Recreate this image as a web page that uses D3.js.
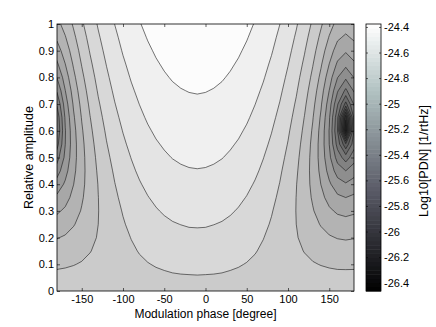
<!DOCTYPE html>
<html>
<head>
<meta charset="utf-8">
<script src="https://cdn.jsdelivr.net/npm/d3@7"></script>
<style>
  body { margin: 0; background: #fff; }
  text { font-family: "Liberation Sans", Arial, Helvetica, sans-serif; fill: #000; }
</style>
</head>
<body>
<svg id="chart" width="436" height="327"></svg>
<script>
// Grid of the contour map: one row per relative amplitude, one column per phase.
const phases = [-180, -170, -160, -150, -140, -130, -120, -110, -100, -90, -80, -70, -60, -50, -40, -30, -20, -10,
    0, 10, 20, 30, 40, 50, 60, 70, 80, 90, 100, 110, 120, 130, 140, 150, 160, 170, 180];
const amplitudes = [0, 0.05, 0.1, 0.15, 0.2, 0.25, 0.3, 0.35, 0.4, 0.45, 0.5,
    0.55, 0.6, 0.65, 0.7, 0.75, 0.8, 0.85, 0.9, 0.95, 1];

// Log10[PDN], rows follow amplitudes, columns follow phases.
const logPdn = [
    [-24.74,-24.74,-24.74,-24.74,-24.74,-24.74,-24.74,-24.74,-24.74,-24.74,-24.74,-24.74,-24.74,-24.74,-24.74,-24.74,-24.74,-24.74,-24.74,-24.74,-24.74,-24.74,-24.74,-24.74,-24.74,-24.74,-24.74,-24.74,-24.74,-24.74,-24.74,-24.74,-24.74,-24.74,-24.74,-24.74,-24.74],
    [-24.776,-24.774,-24.771,-24.767,-24.762,-24.757,-24.751,-24.745,-24.739,-24.733,-24.727,-24.722,-24.717,-24.714,-24.710,-24.708,-24.707,-24.706,-24.707,-24.708,-24.710,-24.714,-24.717,-24.722,-24.727,-24.733,-24.739,-24.745,-24.751,-24.757,-24.762,-24.767,-24.771,-24.774,-24.776,-24.776,-24.776],
    [-24.815,-24.810,-24.803,-24.794,-24.783,-24.772,-24.759,-24.747,-24.734,-24.723,-24.712,-24.703,-24.695,-24.688,-24.682,-24.678,-24.676,-24.675,-24.676,-24.678,-24.682,-24.688,-24.695,-24.703,-24.712,-24.723,-24.734,-24.747,-24.759,-24.772,-24.783,-24.794,-24.803,-24.810,-24.815,-24.816,-24.815],
    [-24.857,-24.849,-24.837,-24.821,-24.803,-24.784,-24.765,-24.746,-24.728,-24.711,-24.696,-24.683,-24.672,-24.663,-24.655,-24.650,-24.647,-24.646,-24.647,-24.650,-24.655,-24.663,-24.672,-24.683,-24.696,-24.711,-24.728,-24.746,-24.765,-24.784,-24.803,-24.821,-24.837,-24.849,-24.857,-24.860,-24.857],
    [-24.904,-24.891,-24.871,-24.847,-24.821,-24.794,-24.767,-24.742,-24.719,-24.698,-24.679,-24.663,-24.649,-24.638,-24.630,-24.624,-24.620,-24.619,-24.620,-24.624,-24.630,-24.638,-24.649,-24.663,-24.679,-24.698,-24.719,-24.742,-24.767,-24.794,-24.821,-24.847,-24.871,-24.891,-24.904,-24.909,-24.904],
    [-24.956,-24.936,-24.906,-24.872,-24.835,-24.800,-24.766,-24.735,-24.707,-24.683,-24.661,-24.643,-24.627,-24.615,-24.605,-24.599,-24.594,-24.593,-24.594,-24.599,-24.605,-24.615,-24.627,-24.643,-24.661,-24.683,-24.707,-24.735,-24.766,-24.800,-24.835,-24.872,-24.906,-24.936,-24.956,-24.964,-24.956],
    [-25.015,-24.984,-24.941,-24.893,-24.847,-24.802,-24.762,-24.726,-24.695,-24.667,-24.643,-24.623,-24.606,-24.592,-24.582,-24.575,-24.570,-24.569,-24.570,-24.575,-24.582,-24.592,-24.606,-24.623,-24.643,-24.667,-24.695,-24.726,-24.762,-24.802,-24.847,-24.893,-24.941,-24.984,-25.015,-25.027,-25.015],
    [-25.081,-25.034,-24.973,-24.911,-24.853,-24.801,-24.755,-24.715,-24.680,-24.650,-24.624,-24.603,-24.585,-24.571,-24.560,-24.552,-24.547,-24.546,-24.547,-24.552,-24.560,-24.571,-24.585,-24.603,-24.624,-24.650,-24.680,-24.715,-24.755,-24.801,-24.853,-24.911,-24.973,-25.034,-25.081,-25.100,-25.081],
    [-25.157,-25.085,-25.002,-24.924,-24.856,-24.797,-24.746,-24.702,-24.665,-24.633,-24.606,-24.583,-24.565,-24.550,-24.538,-24.530,-24.526,-24.524,-24.526,-24.530,-24.538,-24.550,-24.565,-24.583,-24.606,-24.633,-24.665,-24.702,-24.746,-24.797,-24.856,-24.924,-25.002,-25.085,-25.157,-25.189,-25.157],
    [-25.245,-25.134,-25.024,-24.931,-24.853,-24.788,-24.734,-24.688,-24.648,-24.615,-24.587,-24.564,-24.545,-24.530,-24.518,-24.510,-24.505,-24.503,-24.505,-24.510,-24.518,-24.530,-24.545,-24.564,-24.587,-24.615,-24.648,-24.688,-24.734,-24.788,-24.853,-24.931,-25.024,-25.134,-25.245,-25.300,-25.245],
    [-25.342,-25.175,-25.038,-24.931,-24.846,-24.777,-24.720,-24.672,-24.632,-24.598,-24.569,-24.545,-24.526,-24.510,-24.498,-24.490,-24.485,-24.484,-24.485,-24.490,-24.498,-24.510,-24.526,-24.545,-24.569,-24.598,-24.632,-24.672,-24.720,-24.777,-24.846,-24.931,-25.038,-25.175,-25.342,-25.450,-25.342],
    [-25.439,-25.201,-25.041,-24.925,-24.835,-24.763,-24.704,-24.655,-24.614,-24.580,-24.551,-24.527,-24.507,-24.492,-24.480,-24.471,-24.466,-24.465,-24.466,-24.471,-24.480,-24.492,-24.507,-24.527,-24.551,-24.580,-24.614,-24.655,-24.704,-24.763,-24.835,-24.925,-25.041,-25.201,-25.439,-25.681,-25.439],
    [-25.497,-25.205,-25.033,-24.912,-24.820,-24.747,-24.688,-24.638,-24.597,-24.562,-24.533,-24.509,-24.489,-24.473,-24.462,-24.453,-24.448,-24.446,-24.448,-24.453,-24.462,-24.473,-24.489,-24.509,-24.533,-24.562,-24.597,-24.638,-24.688,-24.747,-24.820,-24.912,-25.033,-25.205,-25.497,-26.209,-25.497],
    [-25.474,-25.186,-25.014,-24.894,-24.803,-24.730,-24.670,-24.621,-24.579,-24.545,-24.516,-24.491,-24.472,-24.456,-24.444,-24.436,-24.431,-24.429,-24.431,-24.436,-24.444,-24.456,-24.472,-24.491,-24.516,-24.545,-24.579,-24.621,-24.670,-24.730,-24.803,-24.894,-25.014,-25.186,-25.474,-26.073,-25.474],
    [-25.389,-25.149,-24.989,-24.872,-24.783,-24.711,-24.652,-24.603,-24.562,-24.528,-24.499,-24.475,-24.455,-24.439,-24.427,-24.419,-24.414,-24.412,-24.414,-24.419,-24.427,-24.439,-24.455,-24.475,-24.499,-24.528,-24.562,-24.603,-24.652,-24.711,-24.783,-24.872,-24.989,-25.149,-25.389,-25.636,-25.389],
    [-25.289,-25.102,-24.958,-24.848,-24.762,-24.691,-24.634,-24.585,-24.545,-24.511,-24.482,-24.458,-24.438,-24.423,-24.411,-24.403,-24.398,-24.396,-24.398,-24.403,-24.411,-24.423,-24.438,-24.458,-24.482,-24.511,-24.545,-24.585,-24.634,-24.691,-24.762,-24.848,-24.958,-25.102,-25.289,-25.423,-25.289],
    [-25.197,-25.052,-24.924,-24.822,-24.739,-24.672,-24.615,-24.568,-24.528,-24.494,-24.466,-24.442,-24.423,-24.407,-24.395,-24.387,-24.382,-24.381,-24.382,-24.387,-24.395,-24.407,-24.423,-24.442,-24.466,-24.494,-24.528,-24.568,-24.615,-24.672,-24.739,-24.822,-24.924,-25.052,-25.197,-25.281,-25.197],
    [-25.116,-25.001,-24.889,-24.795,-24.717,-24.651,-24.597,-24.550,-24.511,-24.478,-24.450,-24.426,-24.407,-24.392,-24.380,-24.372,-24.367,-24.366,-24.367,-24.372,-24.380,-24.392,-24.407,-24.426,-24.450,-24.478,-24.511,-24.550,-24.597,-24.651,-24.717,-24.795,-24.889,-25.001,-25.116,-25.174,-25.116],
    [-25.045,-24.952,-24.855,-24.768,-24.694,-24.631,-24.578,-24.533,-24.494,-24.462,-24.434,-24.411,-24.392,-24.377,-24.366,-24.357,-24.353,-24.351,-24.353,-24.357,-24.366,-24.377,-24.392,-24.411,-24.434,-24.462,-24.494,-24.533,-24.578,-24.631,-24.694,-24.768,-24.855,-24.952,-25.045,-25.088,-25.045],
    [-24.983,-24.906,-24.821,-24.741,-24.671,-24.611,-24.560,-24.516,-24.478,-24.446,-24.419,-24.396,-24.378,-24.363,-24.351,-24.343,-24.339,-24.337,-24.339,-24.343,-24.351,-24.363,-24.378,-24.396,-24.419,-24.446,-24.478,-24.516,-24.560,-24.611,-24.671,-24.741,-24.821,-24.906,-24.983,-25.016,-24.983],
    [-24.928,-24.864,-24.788,-24.714,-24.649,-24.591,-24.542,-24.499,-24.462,-24.431,-24.404,-24.382,-24.364,-24.349,-24.338,-24.330,-24.325,-24.323,-24.325,-24.330,-24.338,-24.349,-24.364,-24.382,-24.404,-24.431,-24.462,-24.499,-24.542,-24.591,-24.649,-24.714,-24.788,-24.864,-24.928,-24.955,-24.928]
];

// Contour levels and the ticks.
const levels = [-26.4, -26.3, -26.2, -26.1, -26.0, -25.9, -25.8, -25.7, -25.6, -25.5, -25.4,
    -25.3, -25.2, -25.1, -25.0, -24.9, -24.8, -24.7, -24.6, -24.5, -24.4];
const xTicks = [-150, -100, -50, 0, 50, 100, 150];
const yTicks = [0, 0.1, 0.2, 0.3, 0.4, 0.5, 0.6, 0.7, 0.8, 0.9, 1];
const cbarTicks = [-26.4, -26.2, -26, -25.8, -25.6, -25.4, -25.2, -25, -24.8, -24.6, -24.4];
const cbarLimits = [-26.465, -24.377];

let svg = d3.select("#chart");

// Plot box in pixels.
let plot = { left: 57, right: 354, top: 24, bottom: 291 },
    bar = { left: 366, right: 381 };

let x = d3.scaleLinear().domain([-180, 180]).range([plot.left, plot.right]);
let y = d3.scaleLinear().domain([0, 1]).range([plot.bottom, plot.top]);

// Grey for the filled bands, a slightly cool grey ramp for the colorbar.
let bandColor = d3.scaleLinear().domain(cbarLimits).range(["#000", "#fff"]).clamp(true);
let barColor = d3.scaleLinear()
    .domain([cbarLimits[0], -25.682, -24.899, cbarLimits[1]])
    .range(["#000", "#595a66", "#b2c2c2", "#fff"]);

// d3.contours puts grid sample i at i + 0.5, map that onto the data scales.
let gx = d3.scaleLinear()
    .domain([0.5, phases.length - 0.5])
    .range([x(phases[0]), x(phases[phases.length - 1])]);
let gy = d3.scaleLinear()
    .domain([0.5, amplitudes.length - 0.5])
    .range([y(amplitudes[0]), y(amplitudes[amplitudes.length - 1])]);

let path = d3.geoPath(d3.geoTransform({
    point: function (px, py) {
        this.stream.point(gx(px), gy(py));
    }
}));

let contours = d3.contours()
    .size([phases.length, amplitudes.length])
    .thresholds(levels)(logPdn.flat());

svg.append("clipPath").attr("id", "clip")
    .append("rect")
    .attr("x", plot.left).attr("y", plot.top)
    .attr("width", plot.right - plot.left)
    .attr("height", plot.bottom - plot.top);

let map = svg.append("g").attr("clip-path", "url(#clip)");

map.append("rect")
    .attr("x", plot.left).attr("y", plot.top)
    .attr("width", plot.right - plot.left)
    .attr("height", plot.bottom - plot.top)
    .attr("fill", bandColor(levels[0]));

map.selectAll("path.band")
    .data(contours)
    .join("path")
    .attr("class", "band")
    .attr("d", path)
    .attr("fill", d => bandColor(d.value))
    .attr("stroke", "none");

map.selectAll("path.line")
    .data(contours)
    .join("path")
    .attr("class", "line")
    .attr("d", path)
    .attr("fill", "none")
    .attr("stroke", "#1a1a1a")
    .attr("stroke-width", 0.6);

// Axes, ticks pointing inwards like the original.
function styleAxis(g) {
    g.select(".domain").remove();
    g.selectAll("line").attr("stroke", "#000").attr("stroke-width", 0.6);
    g.selectAll("text").attr("font-size", 11)
        .attr("font-family", "'Liberation Sans', Arial, sans-serif");
}

svg.append("g")
    .attr("transform", "translate(0," + plot.bottom + ")")
    .call(d3.axisBottom(x).tickValues(xTicks).tickSize(-3).tickPadding(4).tickFormat(d => String(d)))
    .call(styleAxis);
svg.append("g")
    .attr("transform", "translate(0," + plot.top + ")")
    .call(d3.axisTop(x).tickValues(xTicks).tickSize(-3).tickFormat(""))
    .call(styleAxis);
svg.append("g")
    .attr("transform", "translate(" + plot.left + ",0)")
    .call(d3.axisLeft(y).tickValues(yTicks).tickSize(-3).tickPadding(3).tickFormat(d => String(d)))
    .call(styleAxis);
svg.append("g")
    .attr("transform", "translate(" + plot.right + ",0)")
    .call(d3.axisRight(y).tickValues(yTicks).tickSize(-3).tickFormat(""))
    .call(styleAxis);

svg.append("rect")
    .attr("x", plot.left).attr("y", plot.top)
    .attr("width", plot.right - plot.left)
    .attr("height", plot.bottom - plot.top)
    .attr("fill", "none")
    .attr("stroke", "#000")
    .attr("stroke-width", 0.8);

svg.append("text")
    .attr("x", (plot.left + plot.right) / 2)
    .attr("y", 318)
    .attr("text-anchor", "middle")
    .attr("font-size", 12)
    .text("Modulation phase [degree]");

svg.append("text")
    .attr("transform", "translate(33," + (plot.top + plot.bottom) / 2 + ") rotate(-90)")
    .attr("text-anchor", "middle")
    .attr("font-size", 12.5)
    .text("Relative amplitude");

// Colorbar.
let cy = d3.scaleLinear().domain(cbarLimits).range([plot.bottom, plot.top]);
let steps = 64,
    stepSize = (cbarLimits[1] - cbarLimits[0]) / steps;

svg.append("g").selectAll("rect")
    .data(d3.range(steps))
    .join("rect")
    .attr("x", bar.left)
    .attr("width", bar.right - bar.left)
    .attr("y", i => cy(cbarLimits[0] + (i + 1) * stepSize))
    .attr("height", i => cy(cbarLimits[0] + i * stepSize) - cy(cbarLimits[0] + (i + 1) * stepSize) + 0.5)
    .attr("fill", i => barColor(cbarLimits[0] + (i + 0.5) * stepSize));

svg.append("g")
    .attr("transform", "translate(" + bar.right + ",0)")
    .call(d3.axisRight(cy).tickValues(cbarTicks).tickSize(-2).tickPadding(3).tickFormat(d => String(d)))
    .call(styleAxis);
svg.append("g")
    .attr("transform", "translate(" + bar.left + ",0)")
    .call(d3.axisLeft(cy).tickValues(cbarTicks).tickSize(-2).tickFormat(""))
    .call(styleAxis);

svg.append("rect")
    .attr("x", bar.left).attr("y", plot.top)
    .attr("width", bar.right - bar.left)
    .attr("height", plot.bottom - plot.top)
    .attr("fill", "none")
    .attr("stroke", "#000")
    .attr("stroke-width", 0.8);

svg.append("text")
    .attr("transform", "translate(428,161) rotate(-90)")
    .attr("text-anchor", "middle")
    .attr("font-size", 12.5)
    .text("Log10[PDN] [1/rtHz]");
</script>
</body>
</html>
